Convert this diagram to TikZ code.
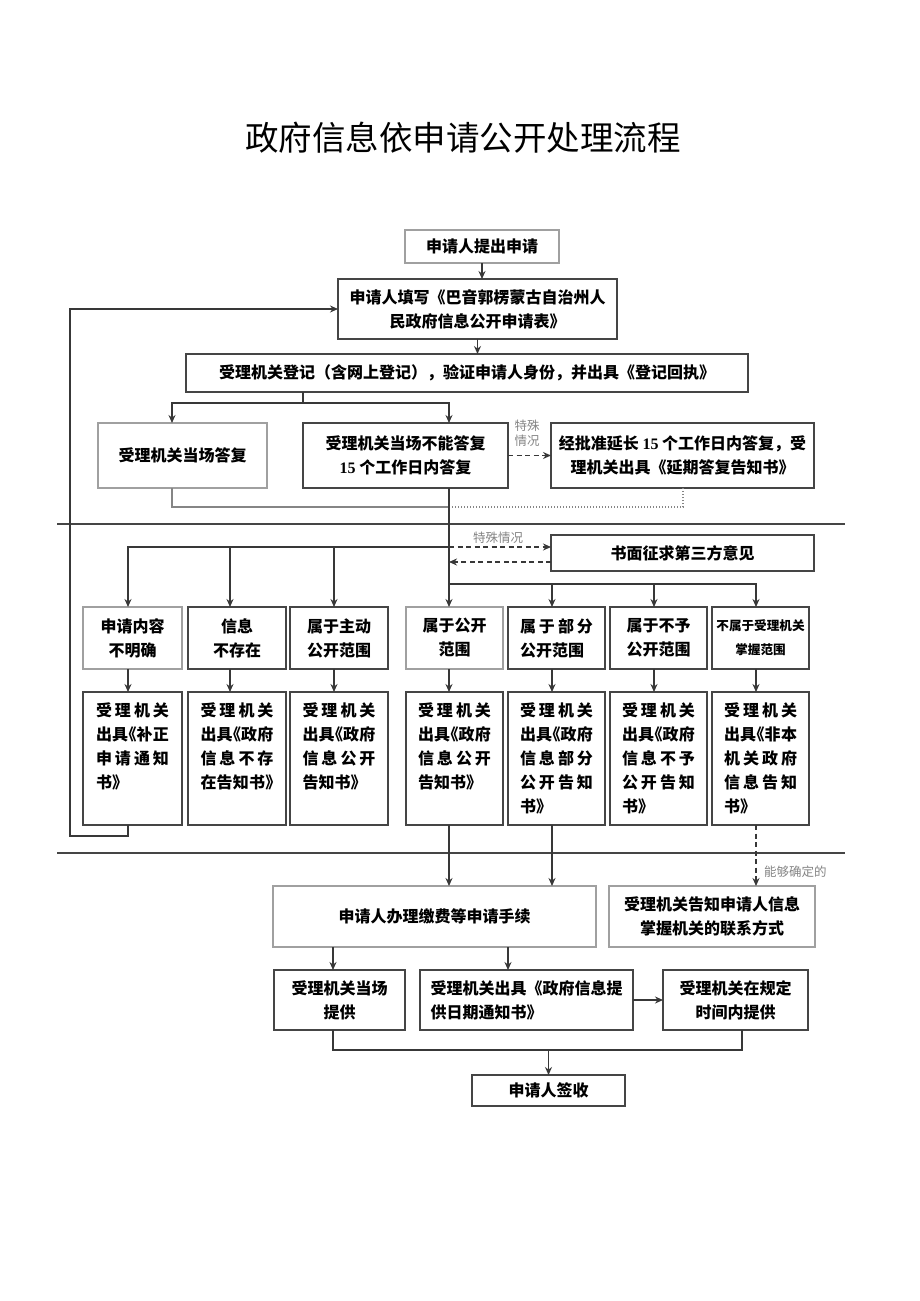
\documentclass[tikz,border=0pt]{standalone}
\usepackage{fontspec}
\setmainfont{Noto Sans CJK SC}
\newfontfamily\cjkh[RawFeature=+halt]{Noto Sans CJK SC}
\newfontfamily\lat{Liberation Serif}
\usetikzlibrary{arrows.meta}
\definecolor{cdk}{HTML}{454545}
\definecolor{clt}{HTML}{A0A0A0}
\definecolor{cln}{HTML}{383838}
\definecolor{cmd}{HTML}{858585}
\makeatletter
\def\spreadit#1{\spr@a#1\@nil}
\def\spr@a#1#2\@nil{#1\ifx\relax#2\relax\else\hfill\spr@a#2\@nil\fi}
\makeatother
\newcommand\fl[1]{\hbox to 73pt{\spreadit{#1}}}
\newcommand\lastl[1]{\hbox{#1}}
\newcommand\rtext[1]{\parbox[c][133pt][t]{73pt}{\cjkh\fontsize{16}{24}\selectfont\bfseries\vspace*{11pt}#1}}
\newcommand\bx[7]{\node[#6, minimum width={(#4-#2)*1pt}, minimum height={(#5-#3)*1pt}] (#1) at ({(#2+#4)/2},{(#3+#5)/2}) {#7};}
\begin{document}
\begin{tikzpicture}[x=1pt,y=-1pt,
  box/.style={draw=cdk, line width=1.5pt, inner sep=0pt, outer sep=0pt, align=center,
    font=\fontsize{16}{24}\selectfont\bfseries},
  lbox/.style={box, draw=clt},
  conn/.style={draw=cln, line width=1.5pt},
  arr/.style={conn, -{Stealth[length=8pt,width=7pt]}},
  darr/.style={conn, dash pattern=on 5pt off 3.5pt, -{Stealth[length=8pt,width=7pt]}},
  dotl/.style={draw=cmd, line width=1.4pt, dash pattern=on 1.4pt off 1.6pt},
  retl/.style={draw=cmd, line width=1.5pt},
  sep/.style={draw=cdk, line width=1.6pt},
  lab/.style={font=\fontsize{12.5}{15.5}\selectfont, text=cmd, inner sep=0pt, align=center}
]
\fill[white] (0,0) rectangle (920,1301);
\useasboundingbox (0,0) rectangle (920,1301);

% title
\node (title) at (463,138) {\fontsize{33.5}{40}\selectfont 政府信息依申请公开处理流程};

% x positions of connectors
\coordinate (x1) at (128,0);
\coordinate (x2) at (230,0);
\coordinate (x3) at (334,0);
\coordinate (xM) at (449,0);
\coordinate (x5) at (552,0);
\coordinate (x6) at (654,0);
\coordinate (x7) at (756,0);
\coordinate (xL) at (172,0);
\coordinate (xD) at (683,0);

% top part
\bx{b1}{405}{230}{559}{263}{lbox}{申请人提出申请}
\bx{b2}{338}{279}{617}{339}{box}{申请人填写《巴音郭楞蒙古自治州人\\民政府信息公开申请表》}
\bx{b3}{186}{354}{748}{392}{box}{受理机关登记（含网上登记），验证申请人身份，并出具《登记回执》}
\bx{b4}{98}{423}{267}{488}{lbox}{受理机关当场答复}
\bx{b5}{303}{423}{508}{488}{box}{受理机关当场不能答复\\{\lat 15} 个工作日内答复}
\bx{b6}{551}{423}{814}{488}{box}{经批准延长 {\lat 15} 个工作日内答复，受\\理机关出具《延期答复告知书》}
\bx{b7}{551}{535}{814}{571}{box}{书面征求第三方意见}

% categories
\bx{c1}{83}{607}{182}{669}{lbox}{申请内容\\不明确}
\bx{c2}{188}{607}{286}{669}{box}{信息\\不存在}
\bx{c3}{290}{607}{388}{669}{box}{属于主动\\公开范围}
\bx{c4}{406}{607}{503}{669}{lbox}{属于公开\\范围}
\bx{c5}{508}{607}{605}{669}{box}{\parbox{73pt}{\fl{属于部分}\lastl{公开范围}}}
\bx{c6}{610}{607}{707}{669}{box}{属于不予\\公开范围}
\bx{c7}{712}{607}{809}{669}{box, font=\fontsize{12.6}{24}\selectfont\bfseries}{不属于受理机关\\掌握范围}

% results
\bx{r1}{83}{692}{182}{825}{box}{\rtext{\fl{受理机关}\fl{出具《补正}\fl{申请通知}\lastl{书》}}}
\bx{r2}{188}{692}{286}{825}{box}{\rtext{\fl{受理机关}\fl{出具《政府}\fl{信息不存}\fl{在告知书》}}}
\bx{r3}{290}{692}{388}{825}{box}{\rtext{\fl{受理机关}\fl{出具《政府}\fl{信息公开}\lastl{告知书》}}}
\bx{r4}{406}{692}{503}{825}{box}{\rtext{\fl{受理机关}\fl{出具《政府}\fl{信息公开}\lastl{告知书》}}}
\bx{r5}{508}{692}{605}{825}{box}{\rtext{\fl{受理机关}\fl{出具《政府}\fl{信息部分}\fl{公开告知}\lastl{书》}}}
\bx{r6}{610}{692}{707}{825}{box}{\rtext{\fl{受理机关}\fl{出具《政府}\fl{信息不予}\fl{公开告知}\lastl{书》}}}
\bx{r7}{712}{692}{809}{825}{box}{\rtext{\fl{受理机关}\fl{出具《非本}\fl{机关政府}\fl{信息告知}\lastl{书》}}}

% bottom part
\bx{d1}{273}{886}{596}{947}{lbox}{申请人办理缴费等申请手续}
\bx{d2}{609}{886}{815}{947}{lbox}{受理机关告知申请人信息\\掌握机关的联系方式}
\bx{e1}{274}{970}{405}{1030}{box}{受理机关当场\\提供}
\bx{e2}{420}{970}{633}{1030}{box, align=left}{受理机关出具《政府信息提\\供日期通知书》}
\bx{e3}{663}{970}{808}{1030}{box}{受理机关在规定\\时间内提供}
\bx{f}{472}{1075}{625}{1106}{box}{申请人签收}

% separators
\draw[sep] (57,524) -- (845,524);
\draw[sep] (57,853) -- (845,853);

% junction coordinates
\coordinate (j1) at (303,403);
\coordinate (k1) at (449,507);
\coordinate (j2) at (449,547);
\coordinate (j3) at (449,562);
\coordinate (j4) at (449,584);
\coordinate (lp) at (70,836);
\coordinate (m1) at (333,1050);
\coordinate (m2) at (742,1050);
\coordinate (xa) at (333,0);
\coordinate (xb) at (508,0);

% top connectors
\draw[arr] (b1.south) -- (b1.south |- b2.north);
\draw[arr] (b2.south) -- (b2.south |- b3.north);
\draw[conn] (b3.south -| j1) -- (j1);
\draw[arr] (j1) -| (b4.north -| xL);
\draw[arr] (j1) -| (b5.north -| xM);
\draw[darr] (b5.east) -- (b6.west);
\node[lab] (lab1) at (527,433) {特殊\\情况};
\draw[retl] (b4.south -| xL) |- (k1);
\draw[dotl] (k1) -| (b6.south -| xD);

% main vertical
\draw[arr] (b5.south -| xM) -- (c4.north -| xM);
\draw[darr] (j2) -- (j2 -| b7.west);
\draw[darr] (j3 -| b7.west) -- (j3);
\node[lab] (lab2) at (498,538) {特殊情况};

% left branches
\draw[arr] (j2) -| (c1.north -| x1);
\draw[arr] (j2 -| x2) -- (c2.north -| x2);
\draw[arr] (j2 -| x3) -- (c3.north -| x3);

% right branches
\draw[arr] (j4) -| (c5.north -| x5);
\draw[arr] (j4) -| (c6.north -| x6);
\draw[arr] (j4) -| (c7.north -| x7);

% category -> result
\draw[arr] (c1.south -| x1) -- (r1.north -| x1);
\draw[arr] (c2.south -| x2) -- (r2.north -| x2);
\draw[arr] (c3.south -| x3) -- (r3.north -| x3);
\draw[arr] (c4.south -| xM) -- (r4.north -| xM);
\draw[arr] (c5.south -| x5) -- (r5.north -| x5);
\draw[arr] (c6.south -| x6) -- (r6.north -| x6);
\draw[arr] (c7.south -| x7) -- (r7.north -| x7);

% loop back
\draw[arr] (r1.south -| x1) |- (lp) |- (b2.west);

% to bottom
\draw[arr] (r4.south -| xM) -- (d1.north -| xM);
\draw[arr] (r5.south -| x5) -- (d1.north -| x5);
\draw[darr] (r7.south -| x7) -- (d2.north -| x7);
\node[lab, anchor=west] (lab3) at (764,872) {能够确定的};

\draw[arr] (d1.south -| xa) -- (e1.north -| xa);
\draw[arr] (d1.south -| xb) -- (e2.north -| xb);
\draw[arr] (e2.east) -- (e3.west);
\draw[conn] (e1.south -| m1) -- (m1) -- (m2) -- (e3.south -| m2);
\draw[arr] (m1 -| f.north) -- (f.north);
\end{tikzpicture}
\end{document}
